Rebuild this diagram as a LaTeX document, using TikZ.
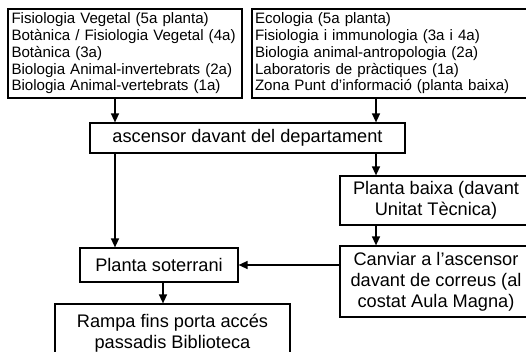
\documentclass[tikz,border=0pt]{standalone}
\usepackage{fontspec}
\setmainfont{Liberation Sans}
\usetikzlibrary{arrows.meta}

\tikzset{
    box/.style = {draw, line width=1.2pt, rectangle, inner sep=0pt, align=center,
                  font=\fontsize{18.2}{21}\selectfont},
    listbox/.style = {draw, line width=1.2pt, rectangle, inner sep=0pt, align=left,
                  font=\fontsize{15.1}{16.8}\selectfont},
    arr/.style = {line width=1.4pt, -{Triangle[length=9pt,width=8pt]}}
}

\begin{document}
\begin{tikzpicture}[x=1pt, y=-1pt]
    \useasboundingbox (0,0) rectangle (526,352);
    \clip (0,0) rectangle (526,352);

    % Columns for the vertical arrows
    \coordinate (colL) at (115,0);
    \coordinate (colR) at (376,0);
    \coordinate (colM) at (163,0);

    % Department lists
    \node[listbox, minimum width=234pt, minimum height=89pt, text width=227pt] (vegetal) at (125,53.5)
        {Fisiologia Vegetal (5a planta)\\
         Botànica / Fisiologia Vegetal (4a)\\
         Botànica (3a)\\
         Biologia Animal-invertebrats (2a)\\
         Biologia Animal-vertebrats (1a)};
    \node[listbox, minimum width=280pt, minimum height=89pt, text width=274pt] (ecologia) at (392,53.5)
        {Ecologia (5a planta)\\
         Fisiologia i immunologia (3a i 4a)\\
         Biologia animal-antropologia (2a)\\
         Laboratoris de pràctiques (1a)\\
         Zona Punt d'informació (planta baixa)};

    % Steps
    \node[box, minimum width=315pt, minimum height=30pt] (ascensor) at (247.5,138)
        {ascensor davant del departament};
    \node[box, minimum width=192pt, minimum height=49pt] (baixa) at (436,200.5)
        {Planta baixa (davant\\ Unitat Tècnica)};
    \node[box, minimum width=158pt, minimum height=34pt] (soterrani) at (159,265)
        {Planta soterrani};
    \node[box, minimum width=192pt, minimum height=71pt] (canviar) at (436,281.5)
        {Canviar a l'ascensor\\ davant de correus (al\\ costat Aula Magna)};
    \node[box, minimum width=235pt, minimum height=58pt] (rampa) at (172.5,333)
        {Rampa fins porta accés\\ passadis Biblioteca};

    % Arrows
    \draw[arr] (vegetal.south -| colL) -- (ascensor.north -| colL);
    \draw[arr] (ecologia.south -| colR) -- (ascensor.north -| colR);
    \draw[arr] (ascensor.south -| colR) -- (baixa.north -| colR);
    \draw[arr] (baixa.south -| colR) -- (canviar.north -| colR);
    \draw[arr] (ascensor.south -| colL) -- (soterrani.north -| colL);
    \draw[arr] (canviar.west |- soterrani.east) -- (soterrani.east);
    \draw[arr] (soterrani.south -| colM) -- (rampa.north -| colM);
\end{tikzpicture}
\end{document}
